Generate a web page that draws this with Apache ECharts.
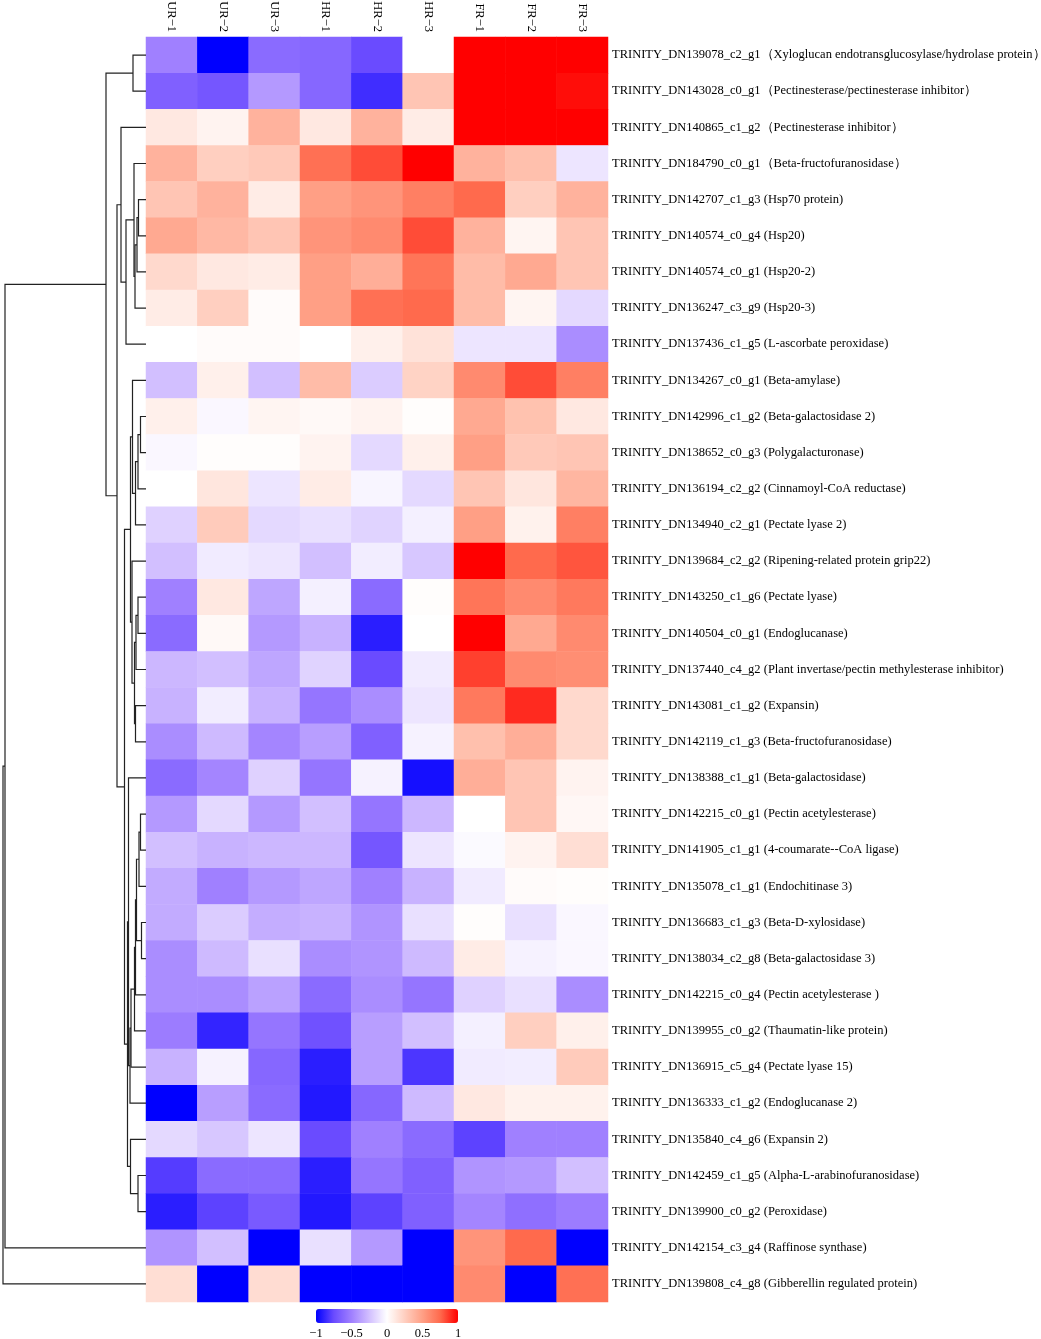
<!DOCTYPE html>
<html>
<head>
<meta charset="utf-8">
<script src="https://cdn.jsdelivr.net/npm/echarts@6/dist/echarts.min.js"></script>
<style>
html, body { margin: 0; padding: 0; background: #fff; }
#main { width: 1041px; height: 1339px; }
</style>
</head>
<body>
<div id="main"></div>
<script>
var samples = ['UR−1', 'UR−2', 'UR−3', 'HR−1', 'HR−2', 'HR−3', 'FR−1', 'FR−2', 'FR−3'];

var genes = [
	'TRINITY_DN139078_c2_g1（Xyloglucan endotransglucosylase/hydrolase protein）',
	'TRINITY_DN143028_c0_g1（Pectinesterase/pectinesterase inhibitor）',
	'TRINITY_DN140865_c1_g2（Pectinesterase inhibitor）',
	'TRINITY_DN184790_c0_g1（Beta-fructofuranosidase）',
	'TRINITY_DN142707_c1_g3 (Hsp70 protein)',
	'TRINITY_DN140574_c0_g4 (Hsp20)',
	'TRINITY_DN140574_c0_g1 (Hsp20-2)',
	'TRINITY_DN136247_c3_g9 (Hsp20-3)',
	'TRINITY_DN137436_c1_g5 (L-ascorbate peroxidase)',
	'TRINITY_DN134267_c0_g1 (Beta-amylase)',
	'TRINITY_DN142996_c1_g2 (Beta-galactosidase 2)',
	'TRINITY_DN138652_c0_g3 (Polygalacturonase)',
	'TRINITY_DN136194_c2_g2 (Cinnamoyl-CoA reductase)',
	'TRINITY_DN134940_c2_g1 (Pectate lyase 2)',
	'TRINITY_DN139684_c2_g2 (Ripening-related protein grip22)',
	'TRINITY_DN143250_c1_g6 (Pectate lyase)',
	'TRINITY_DN140504_c0_g1 (Endoglucanase)',
	'TRINITY_DN137440_c4_g2 (Plant invertase/pectin methylesterase inhibitor)',
	'TRINITY_DN143081_c1_g2 (Expansin)',
	'TRINITY_DN142119_c1_g3 (Beta-fructofuranosidase)',
	'TRINITY_DN138388_c1_g1 (Beta-galactosidase)',
	'TRINITY_DN142215_c0_g1 (Pectin acetylesterase)',
	'TRINITY_DN141905_c1_g1 (4-coumarate--CoA ligase)',
	'TRINITY_DN135078_c1_g1 (Endochitinase 3)',
	'TRINITY_DN136683_c1_g3 (Beta-D-xylosidase)',
	'TRINITY_DN138034_c2_g8 (Beta-galactosidase 3)',
	'TRINITY_DN142215_c0_g4 (Pectin acetylesterase )',
	'TRINITY_DN139955_c0_g2 (Thaumatin-like protein)',
	'TRINITY_DN136915_c5_g4 (Pectate lyase 15)',
	'TRINITY_DN136333_c1_g2 (Endoglucanase 2)',
	'TRINITY_DN135840_c4_g6 (Expansin 2)',
	'TRINITY_DN142459_c1_g5 (Alpha-L-arabinofuranosidase)',
	'TRINITY_DN139900_c0_g2 (Peroxidase)',
	'TRINITY_DN142154_c3_g4 (Raffinose synthase)',
	'TRINITY_DN139808_c4_g8 (Gibberellin regulated protein)'
];

// scaled expression, one row per gene, columns in samples order
var expr = [
	[-0.5, -1, -0.6, -0.62, -0.75, 0, 1, 1, 1],
	[-0.65, -0.7, -0.4, -0.62, -0.85, 0.3, 1, 1, 0.97],
	[0.12, 0.06, 0.4, 0.12, 0.4, 0.1, 1, 1, 1],
	[0.4, 0.25, 0.28, 0.72, 0.82, 1, 0.4, 0.33, -0.1],
	[0.3, 0.4, 0.1, 0.5, 0.55, 0.65, 0.75, 0.25, 0.4],
	[0.45, 0.37, 0.3, 0.55, 0.6, 0.82, 0.4, 0.05, 0.3],
	[0.2, 0.12, 0.1, 0.5, 0.42, 0.7, 0.35, 0.45, 0.3],
	[0.1, 0.25, 0.02, 0.5, 0.72, 0.75, 0.35, 0.05, -0.15],
	[0, 0.02, 0.02, 0, 0.08, 0.15, -0.1, -0.1, -0.45],
	[-0.25, 0.08, -0.25, 0.35, -0.2, 0.23, 0.6, 0.82, 0.65],
	[0.08, -0.03, 0.05, 0.03, 0.06, 0.01, 0.45, 0.32, 0.12],
	[-0.03, 0.01, 0.01, 0.06, -0.15, 0.08, 0.5, 0.28, 0.3],
	[0, 0.13, -0.1, 0.1, -0.04, -0.15, 0.3, 0.13, 0.38],
	[-0.18, 0.27, -0.15, -0.12, -0.17, -0.06, 0.5, 0.07, 0.65],
	[-0.25, -0.08, -0.1, -0.25, -0.07, -0.22, 1, 0.75, 0.8],
	[-0.5, 0.12, -0.35, -0.06, -0.6, 0.01, 0.7, 0.6, 0.68],
	[-0.6, 0.03, -0.4, -0.3, -0.9, 0, 1, 0.45, 0.6],
	[-0.28, -0.25, -0.35, -0.17, -0.75, -0.08, 0.85, 0.6, 0.58],
	[-0.3, -0.07, -0.3, -0.55, -0.45, -0.1, 0.68, 0.9, 0.2],
	[-0.45, -0.27, -0.48, -0.38, -0.65, -0.05, 0.33, 0.42, 0.2],
	[-0.6, -0.48, -0.18, -0.55, -0.05, -0.95, 0.42, 0.3, 0.06],
	[-0.4, -0.15, -0.4, -0.25, -0.55, -0.28, 0, 0.3, 0.04],
	[-0.25, -0.3, -0.28, -0.28, -0.7, -0.1, -0.02, 0.06, 0.17],
	[-0.33, -0.5, -0.4, -0.35, -0.5, -0.3, -0.08, 0.02, 0.01],
	[-0.33, -0.2, -0.32, -0.3, -0.42, -0.12, 0.01, -0.12, -0.03],
	[-0.45, -0.27, -0.12, -0.45, -0.42, -0.27, 0.1, -0.05, -0.03],
	[-0.45, -0.45, -0.37, -0.6, -0.45, -0.55, -0.18, -0.12, -0.45],
	[-0.52, -0.88, -0.55, -0.72, -0.38, -0.25, -0.06, 0.25, 0.08],
	[-0.3, -0.05, -0.62, -0.9, -0.38, -0.82, -0.08, -0.07, 0.27],
	[-1, -0.38, -0.6, -0.92, -0.62, -0.27, 0.12, 0.07, 0.07],
	[-0.15, -0.22, -0.1, -0.75, -0.5, -0.6, -0.78, -0.5, -0.5],
	[-0.8, -0.6, -0.6, -0.9, -0.55, -0.65, -0.42, -0.4, -0.25],
	[-0.9, -0.78, -0.68, -0.92, -0.78, -0.65, -0.48, -0.58, -0.52],
	[-0.42, -0.25, -1, -0.12, -0.4, -1, 0.55, 0.75, -1],
	[0.17, -1, 0.18, -1, -1, -1, 0.6, -1, 0.72]
];

// row dendrogram: [height, left, right], a number is a leaf (row index)
var dendroTree =
	[14.3,
		[14.1,
			[4.0,
				[1.3, 0, 1],
				[2.9,
					[2.5, 2,
						[2.0,
							[1.2, 3,
								[1.1, [0.9, [0.75, 4, 5], 6], 7]],
							8]],
					[2.15,
						[1.55,
							[1.35, 9, [1.05, [0.8, [0.55, 10, 11], 12], 13]],
							[1.4, 14,
								[1.15,
									[1.0, [0.8, 15, 16], 17],
									[1.05, 18, 19]]]],
						[1.85,
							[1.75, 20,
								[1.6,
									[1.5,
										[1.15,
											[1.05,
												[0.95,
													[0.7, [0.55, 21, 22], 23],
													[0.45, 24, 25]],
												26],
											27],
										28],
									29]],
							[1.55, 30, [0.8, 31, 32]]]]]],
			33],
		34];

var legendColors = ['#0000FF', '#6A4BFF', '#A080FF', '#D2BFFF', '#FFFFFF', '#FFCFC0', '#FF9F85', '#FF6A4D', '#FF0000'];

var serif = '"Liberation Serif", "Times New Roman", serif';

var heatData = [];
expr.forEach(function(row, r) {
	row.forEach(function(v, c) {
		heatData.push([c, r, v]);
	});
});

// walk the tree: each merge gives one bracket [hLeft, yLeft, h, yRight, hRight]
var dendroSegs = [];
function walk(node) {
	if (typeof node === 'number') {
		return { h: 0, y: node + 0.5 };
	}
	var a = walk(node[1]);
	var b = walk(node[2]);
	dendroSegs.push([a.h, a.y, node[0], b.y, b.h]);
	return { h: node[0], y: (a.y + b.y) / 2 };
}
walk(dendroTree);

var chart = echarts.init(document.getElementById('main'));
chart.setOption({
	backgroundColor: '#fff',
	animation: false,
	grid: [
		{ left: 146, top: 37, width: 462, height: 1265, outerBoundsMode: 'none', containLabel: false },
		{ left: 3, top: 37, width: 143, height: 1265, outerBoundsMode: 'none', containLabel: false },
		{ left: 316, top: 1309, width: 142, height: 14, outerBoundsMode: 'none', containLabel: false }
	],
	xAxis: [
		{
			type: 'category', gridIndex: 0, data: samples, position: 'top',
			axisLine: { show: false }, axisTick: { show: false },
			axisLabel: { rotate: 90, margin: 5, fontSize: 12.5, color: '#000', fontFamily: serif }
		},
		{ type: 'value', gridIndex: 1, min: 0, max: 14.3, inverse: true, show: false },
		{
			type: 'value', gridIndex: 2, min: -1, max: 1, interval: 0.5, position: 'bottom',
			axisLine: { show: false }, splitLine: { show: false },
			axisTick: { inside: true, length: 3, lineStyle: { color: '#fff', width: 1 } },
			axisLabel: {
				margin: 4, fontSize: 12.5, color: '#000', fontFamily: serif,
				formatter: function(v) { return String(v).replace('-', '−'); }
			}
		},
		{
			type: 'value', gridIndex: 2, min: -1, max: 1, interval: 0.5, position: 'top',
			axisLine: { show: false }, splitLine: { show: false }, axisLabel: { show: false },
			axisTick: { inside: true, length: 3, lineStyle: { color: '#fff', width: 1 } }
		}
	],
	yAxis: [
		{
			type: 'category', gridIndex: 0, data: genes, inverse: true, position: 'right',
			axisLine: { show: false }, axisTick: { show: false },
			axisLabel: { margin: 4, fontSize: 12.5, color: '#000', fontFamily: serif }
		},
		{ type: 'value', gridIndex: 1, min: 0, max: 35, inverse: true, show: false },
		{ type: 'value', gridIndex: 2, min: 0, max: 1, show: false }
	],
	visualMap: {
		type: 'continuous',
		seriesIndex: 0,
		min: -1,
		max: 1,
		orient: 'horizontal',
		left: 316,
		top: 1309,
		itemWidth: 14,
		itemHeight: 142,
		padding: 0,
		calculable: false,
		hoverLink: false,
		text: null,
		showLabel: false,
		inRange: { color: legendColors }
	},
	series: [
		{
			type: 'heatmap',
			xAxisIndex: 0,
			yAxisIndex: 0,
			data: heatData,
			itemStyle: { borderWidth: 0 },
			emphasis: { disabled: true }
		},
		{
			type: 'custom',
			xAxisIndex: 1,
			yAxisIndex: 1,
			data: dendroSegs,
			encode: { x: [0, 2, 4], y: [1, 3] },
			silent: true,
			renderItem: function(params, api) {
				var p1 = api.coord([api.value(0), api.value(1)]);
				var p2 = api.coord([api.value(2), api.value(1)]);
				var p3 = api.coord([api.value(2), api.value(3)]);
				var p4 = api.coord([api.value(4), api.value(3)]);
				return {
					type: 'polyline',
					shape: { points: [p1, p2, p3, p4] },
					style: { stroke: '#222', lineWidth: 1.2, fill: null }
				};
			}
		},
		{
			type: 'scatter',
			xAxisIndex: 2,
			yAxisIndex: 2,
			data: [],
			silent: true
		}
	]
});
</script>
</body>
</html>
